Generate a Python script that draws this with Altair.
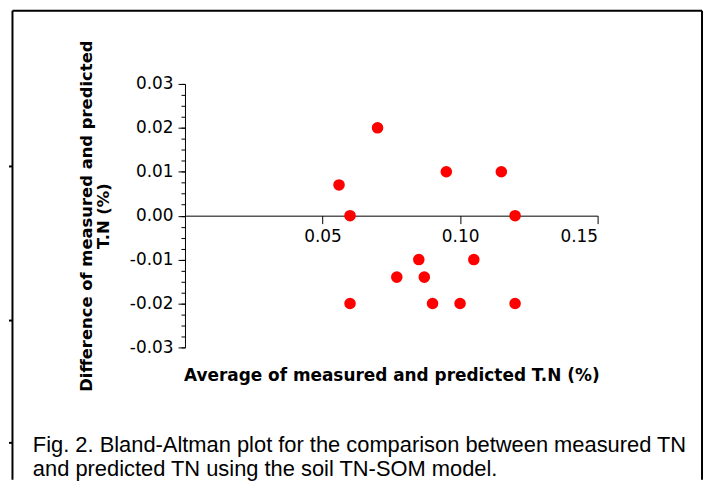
import altair as alt
import pandas as pd

# Bland-Altman data (average of measured & predicted TN, difference)
avg_tn = [0.056, 0.070, 0.060, 0.095, 0.115, 0.120, 0.085, 0.105,
          0.077, 0.087, 0.060, 0.090, 0.100, 0.120]
diff_tn = [0.007, 0.020, 0.000, 0.010, 0.010, 0.000, -0.010, -0.010,
           -0.014, -0.014, -0.020, -0.020, -0.020, -0.020]

x_ticks = [0.05, 0.10, 0.15]
y_ticks = [-0.03, -0.02, -0.01, 0.00, 0.01, 0.02, 0.03]
y_minor = [-0.03, -0.0275, -0.025, -0.0225, -0.02, -0.0175, -0.015, -0.0125,
           -0.01, -0.0075, -0.005, -0.0025, 0.0, 0.0025, 0.005, 0.0075,
           0.01, 0.0125, 0.015, 0.0175, 0.02, 0.0225, 0.025, 0.0275, 0.03]

x_title = "Average of measured and predicted T.N (%)"
y_title = ["Difference of measured and predicted", "T.N (%)"]
caption = ["Fig. 2. Bland-Altman plot for the comparison between measured TN",
           "and predicted TN using the soil TN-SOM model."]

df = pd.DataFrame({"avg": avg_tn, "diff": diff_tn})
one = pd.DataFrame({"k": [0]})

TICK_FONT = "DejaVu Sans"
TITLE_FONT = "DejaVu Sans"

xscale = alt.Scale(domain=[0, 0.15], nice=False, zero=False)
yscale = alt.Scale(domain=[-0.03, 0.03], nice=False, zero=False)

label_expr = "replace(format(datum.value, '.2f'), '\u2212', '-')"

points = alt.Chart(df).mark_circle(size=135, color="#ff0000", opacity=1).encode(
    x=alt.X("avg:Q", scale=xscale,
            axis=alt.Axis(values=x_ticks, title=x_title, orient="bottom",
                          offset=-132.5, tickSize=8, labelPadding=5,
                          labelExpr=label_expr, labelFont=TICK_FONT,
                          labelFontSize=17, labelColor="black",
                          titleFont=TITLE_FONT, titleFontSize=17,
                          titleFontWeight="bold", titleColor="black",
                          titleY=153, titleBaseline="top",
                          domainColor="black", tickColor="black",
                          grid=False)),
    y=alt.Y("diff:Q", scale=yscale,
            axis=alt.Axis(values=y_ticks, title=y_title, orient="left",
                          tickSize=7, labelPadding=5,
                          labelExpr=label_expr, labelFont=TICK_FONT,
                          labelFontSize=17, labelColor="black",
                          titleFont=TITLE_FONT, titleFontSize=16.5,
                          titleFontWeight="bold", titleColor="black",
                          titleLineHeight=17, titlePadding=18,
                          domainColor="black", tickColor="black",
                          grid=False)),
)

minor = alt.Chart(df).mark_point(opacity=0).encode(
    y=alt.Y("diff:Q", scale=yscale,
            axis=alt.Axis(values=y_minor, title=None, orient="left",
                          tickSize=4, labels=False, domain=False,
                          tickColor="black", grid=False)),
)

# figure frame (left, top, right) and small marks at the left edge
frame_left = alt.Chart(one).mark_rule(color="black", strokeWidth=2).encode(
    x=alt.value(-173.5), y=alt.value(-73.5), y2=alt.value(398))
frame_top = alt.Chart(one).mark_rule(color="black", strokeWidth=2).encode(
    x=alt.value(-173.5), x2=alt.value(520), y=alt.value(-73.5))
frame_right = alt.Chart(one).mark_rule(color="black", strokeWidth=2).encode(
    x=alt.value(520), y=alt.value(-73.5), y2=alt.value(398))
edge1 = alt.Chart(one).mark_rule(color="black", strokeWidth=2).encode(
    x=alt.value(-177), x2=alt.value(-173.5), y=alt.value(83))
edge2 = alt.Chart(one).mark_rule(color="black", strokeWidth=2).encode(
    x=alt.value(-177), x2=alt.value(-173.5), y=alt.value(238))
edge3 = alt.Chart(one).mark_rule(color="black", strokeWidth=2).encode(
    x=alt.value(-177), x2=alt.value(-173.5), y=alt.value(361))

cap = alt.Chart(one).mark_text(
    align="left", baseline="alphabetic", font="Liberation Sans",
    fontSize=22, lineHeight=24, color="black"
).encode(x=alt.value(-153), y=alt.value(370), text=alt.value(caption))

chart = alt.layer(
    points, minor, frame_left, frame_top, frame_right, edge1, edge2, edge3, cap
).resolve_axis(y="independent").properties(
    width=415, height=265, padding=0, background="white"
).configure_view(stroke=None)

chart.save("out.html", embed_options={"renderer": "svg", "actions": False})
